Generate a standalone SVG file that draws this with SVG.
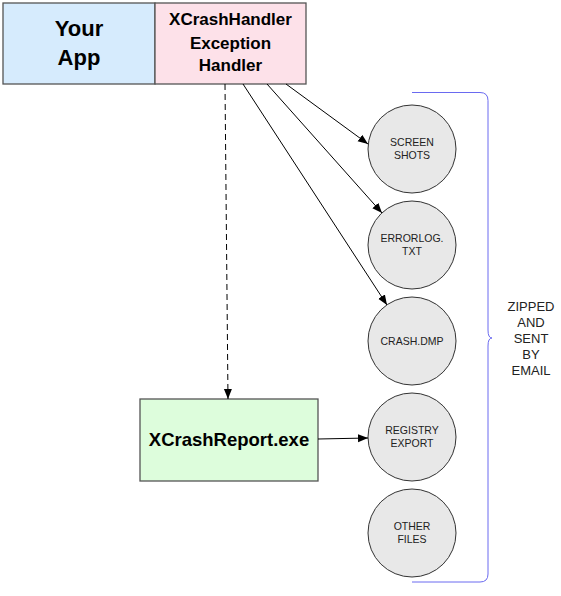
<svg xmlns="http://www.w3.org/2000/svg" width="561" height="596" viewBox="0 0 561 596">
<style>
.box{stroke:#555;stroke-width:1.3}
.big{font-family:"Liberation Sans",Arial,sans-serif;font-weight:bold;fill:#000;text-anchor:middle}
.circ{fill:#e8e8e8;stroke:#333;stroke-width:1}
.sm{font-family:"Liberation Sans",Arial,sans-serif;font-size:10.5px;fill:#222;text-anchor:middle}
.lbl{font-family:"Liberation Sans",Arial,sans-serif;font-size:13px;fill:#222;text-anchor:middle}
.con{stroke:#000;stroke-width:1;fill:none}
</style>
<defs>
<marker id="ah" viewBox="0 0 10 10" refX="10" refY="5" markerWidth="10" markerHeight="10" markerUnits="userSpaceOnUse" orient="auto">
<path d="M0,1 L10,5 L0,9 Z" fill="#000"/>
</marker>
</defs>
<rect width="561" height="596" fill="#fff"/>
<g id="your-app">
<rect class="box" x="3" y="3" width="152" height="81" fill="#d6ebfd"/>
<text class="big" font-size="22" x="79" y="36">Your</text>
<text class="big" font-size="22" x="79" y="65">App</text>
</g>
<g id="exception-handler">
<rect class="box" x="155" y="3" width="151" height="81" fill="#fde1e9"/>
<text class="big" font-size="17" x="230.5" y="25">XCrashHandler</text>
<text class="big" font-size="17" x="230.5" y="49">Exception</text>
<text class="big" font-size="17" x="230.5" y="71">Handler</text>
</g>
<g id="crash-report">
<rect class="box" x="140" y="399" width="178" height="82" fill="#ddfddc"/>
<text class="big" font-size="18.5" x="229" y="446">XCrashReport.exe</text>
</g>
<g id="screen-shots">
<circle class="circ" cx="412" cy="149" r="44"/>
<text class="sm" x="412" y="146">SCREEN</text>
<text class="sm" x="412" y="159">SHOTS</text>
</g>
<g id="errorlog">
<circle class="circ" cx="412" cy="245" r="44"/>
<text class="sm" x="412" y="242">ERRORLOG.</text>
<text class="sm" x="412" y="255">TXT</text>
</g>
<g id="crash-dmp">
<circle class="circ" cx="412" cy="341" r="44"/>
<text class="sm" x="412" y="345">CRASH.DMP</text>
</g>
<g id="registry-export">
<circle class="circ" cx="412" cy="437" r="44"/>
<text class="sm" x="412" y="434">REGISTRY</text>
<text class="sm" x="412" y="447">EXPORT</text>
</g>
<g id="other-files">
<circle class="circ" cx="412" cy="533" r="44"/>
<text class="sm" x="412" y="530">OTHER</text>
<text class="sm" x="412" y="543">FILES</text>
</g>
<g id="connectors">
<line class="con" x1="225" y1="84" x2="228" y2="399" stroke-dasharray="6,4" marker-end="url(#ah)"/>
<line class="con" x1="286" y1="84" x2="368" y2="144" marker-end="url(#ah)"/>
<line class="con" x1="267" y1="84" x2="382" y2="213" marker-end="url(#ah)"/>
<line class="con" x1="243" y1="84" x2="387" y2="305" marker-end="url(#ah)"/>
<line class="con" x1="318" y1="439" x2="368" y2="438" marker-end="url(#ah)"/>
</g>
<g id="brace">
<path d="M412,92.5 L480,92.5 Q488,92.5 488,100.5 L488,330 Q488,338 492,338 Q488,338 488,346 L488,574 Q488,582 480,582 L412,582" fill="none" stroke="#6a6af0" stroke-width="1"/>
<text class="lbl" x="531" y="311">ZIPPED</text>
<text class="lbl" x="531" y="327">AND</text>
<text class="lbl" x="531" y="343">SENT</text>
<text class="lbl" x="531" y="359">BY</text>
<text class="lbl" x="531" y="375">EMAIL</text>
</g>
</svg>
